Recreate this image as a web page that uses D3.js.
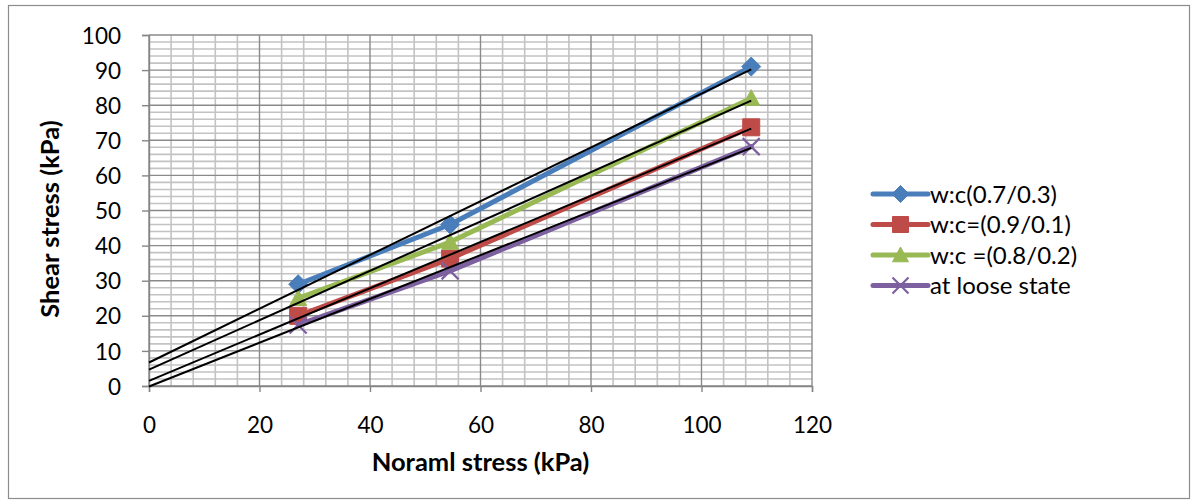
<!DOCTYPE html>
<html>
<head>
<meta charset="utf-8">
<script src="https://cdn.jsdelivr.net/npm/d3@7"></script>
<style>
  html, body { margin: 0; padding: 0; background: #fff; }
  svg { display: block; font-family: Lato, "Open Sans", sans-serif; }
</style>
</head>
<body>
<svg id="chart" width="1197" height="504"></svg>
<script>
// Direct shear test results: normal stress vs. shear stress
const normalStress = [27, 54.5, 109];
const seriesNames = ["w:c(0.7/0.3)", "w:c=(0.9/0.1)", "w:c =(0.8/0.2)", "at loose state"];
const shearWc73 = [29, 46, 91];
const shearWc91 = [20, 36.3, 73.7];
const shearWc82 = [25, 41, 82];
const shearLoose = [17.4, 32.8, 68.2];
const xTickValues = [0, 20, 40, 60, 80, 100, 120];
const yTickValues = [0, 10, 20, 30, 40, 50, 60, 70, 80, 90, 100];
const xTitle = "Noraml stress (kPa)";
const yTitle = "Shear stress (kPa)";

const seriesValues = [shearWc73, shearWc91, shearWc82, shearLoose];
const colors = ["#4A7EBB", "#BE4B48", "#98B954", "#7D60A0"];
const markers = ["diamond", "square", "triangle", "times"];

const svg = d3.select("#chart");
const plot = { left: 149, right: 812, top: 35, bottom: 386 };

// outer chart frame
svg.append("rect")
  .attr("x", 8.5).attr("y", 5.5)
  .attr("width", 1181).attr("height", 493)
  .attr("fill", "#fff").attr("stroke", "#8c8c8c").attr("stroke-width", 1.2);

const x = d3.scaleLinear().domain([0, 120]).range([plot.left, plot.right]);
const y = d3.scaleLinear().domain([0, 100]).range([plot.bottom, plot.top]);

// gridlines: minor then major
const grid = svg.append("g");
const xMinor = d3.range(0, 121, 4).filter(v => v % 20 !== 0);
const yMinor = d3.range(0, 101, 2).filter(v => v % 10 !== 0);
grid.selectAll(".vminor").data(xMinor).join("line")
  .attr("x1", d => x(d)).attr("x2", d => x(d))
  .attr("y1", plot.top).attr("y2", plot.bottom)
  .attr("stroke", "#c3c3c3").attr("stroke-width", 1.6);
grid.selectAll(".hminor").data(yMinor).join("line")
  .attr("x1", plot.left).attr("x2", plot.right)
  .attr("y1", d => y(d)).attr("y2", d => y(d))
  .attr("stroke", "#c3c3c3").attr("stroke-width", 1.6);
grid.selectAll(".vmajor").data(xTickValues).join("line")
  .attr("x1", d => x(d)).attr("x2", d => x(d))
  .attr("y1", plot.top).attr("y2", plot.bottom)
  .attr("stroke", "#8a8a8a").attr("stroke-width", 1.4);
grid.selectAll(".hmajor").data(yTickValues).join("line")
  .attr("x1", plot.left).attr("x2", plot.right)
  .attr("y1", d => y(d)).attr("y2", d => y(d))
  .attr("stroke", "#8a8a8a").attr("stroke-width", 1.4);

// axes
const xAxis = svg.append("g").attr("transform", `translate(0,${plot.bottom})`)
  .call(d3.axisBottom(x).tickValues(xTickValues).tickSize(6).tickPadding(25));
const yAxis = svg.append("g").attr("transform", `translate(${plot.left},0)`)
  .call(d3.axisLeft(y).tickValues(yTickValues).tickSize(7).tickPadding(21));
[xAxis, yAxis].forEach(a => {
  a.select(".domain").attr("stroke", "#868686").attr("stroke-width", 1.4);
  a.selectAll(".tick line").attr("stroke", "#868686").attr("stroke-width", 1.4);
  a.selectAll(".tick text").attr("fill", "#000")
    .style("font-family", "Lato, sans-serif").style("font-size", "22.5px");
});
yAxis.selectAll(".tick text").attr("dy", "0.36em");

// marker shapes
function markerPath(type, s) {
  const r = s / 2;
  if (type === "diamond") return `M0,${-r}L${r},0L0,${r}L${-r},0Z`;
  if (type === "square") return `M${-r},${-r}H${r}V${r}H${-r}Z`;
  if (type === "triangle") return `M0,${-r}L${r},${r * 0.85}L${-r},${r * 0.85}Z`;
  return `M${-r},${-r}L${r},${r}M${r},${-r}L${-r},${r}`;
}
function drawMarker(g, type, color, s) {
  const p = g.append("path").attr("d", markerPath(type, s));
  if (type === "times") p.attr("fill", "none").attr("stroke", color).attr("stroke-width", 2.2);
  else p.attr("fill", color).attr("stroke", color).attr("stroke-width", 1);
}

const lineGen = d3.line().x(d => x(d[0])).y(d => y(d[1]));

// data series
seriesValues.forEach((vals, i) => {
  const pts = normalStress.map((xv, j) => [xv, vals[j]]);
  const g = svg.append("g");
  g.append("path").datum(pts).attr("d", lineGen)
    .attr("fill", "none").attr("stroke", colors[i]).attr("stroke-width", 5)
    .attr("stroke-linejoin", "round").attr("stroke-linecap", "round");
  pts.forEach(p => {
    const m = g.append("g").attr("transform", `translate(${x(p[0])},${y(p[1])})`);
    drawMarker(m, markers[i], colors[i], markers[i] === "diamond" ? 19 : 17);
  });
});

// least-squares trendlines extended back to zero normal stress
function fit(xs, ys) {
  const mx = d3.mean(xs), my = d3.mean(ys);
  const sxy = d3.sum(xs, (v, k) => (v - mx) * (ys[k] - my));
  const sxx = d3.sum(xs, v => (v - mx) * (v - mx));
  const slope = sxy / sxx;
  return { slope, intercept: my - slope * mx };
}
const xEnd = d3.max(normalStress);
seriesValues.forEach(vals => {
  const f = fit(normalStress, vals);
  svg.append("path")
    .datum([[0, f.intercept], [xEnd, f.intercept + f.slope * xEnd]])
    .attr("d", lineGen).attr("fill", "none")
    .attr("stroke", "#000").attr("stroke-width", 2);
});

// axis titles
svg.append("text").attr("x", (plot.left + plot.right) / 2).attr("y", 471)
  .attr("text-anchor", "middle").style("font-weight", "bold").style("font-size", "25.5px")
  .text(xTitle);
svg.append("text").attr("transform", "translate(59,219) rotate(-90)")
  .attr("text-anchor", "middle").style("font-weight", "bold").style("font-size", "25.5px")
  .text(yTitle);

// legend
const legend = svg.append("g").attr("transform", "translate(873,194)");
seriesNames.forEach((name, i) => {
  const row = legend.append("g").attr("transform", `translate(0,${i * 30.5})`);
  row.append("line").attr("x1", 0).attr("x2", 55).attr("y1", 0).attr("y2", 0)
    .attr("stroke", colors[i]).attr("stroke-width", 5).attr("stroke-linecap", "round");
  const m = row.append("g").attr("transform", "translate(27.5,0)");
  drawMarker(m, markers[i], colors[i], markers[i] === "diamond" ? 17 : 16);
  row.append("text").attr("x", 57).attr("y", 0).attr("dy", "0.36em")
    .style("font-size", "24px").text(name);
});
</script>
</body>
</html>
